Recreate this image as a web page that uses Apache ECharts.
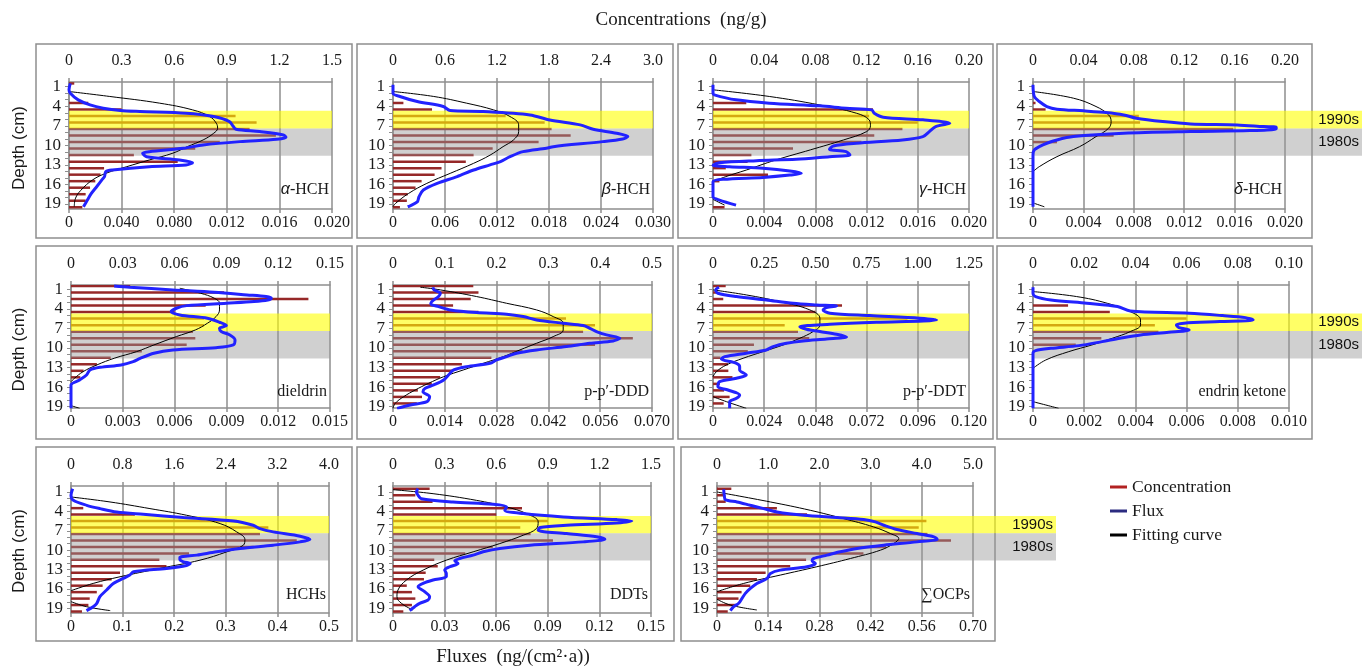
<!DOCTYPE html>
<html><head><meta charset="utf-8">
<script src="https://cdn.jsdelivr.net/npm/echarts@6/dist/echarts.min.js"></script>
<style>html,body{margin:0;padding:0;background:#fff}#c{width:1362px;height:666px}</style>
</head><body><div id="c"></div>
<script>
// ---------------- DATA ----------------
const depthMid = [0.5,1.5,2.5,3.5,4.5,5.5,6.5,7.5,8.5,9.5,10.5,11.5,12.5,13.5,14.5,15.5,16.5,17.5,18.5,19.5];
const depthLabels = [1,4,7,10,13,16,19];
const depthTicks = [1,2,3,4,5,6,7,8,9,10,11,12,13,14,15,16,17,18,19];
const band1990s = [4.7, 7.4];
const band1980s = [7.4, 11.6];
const bandLabels = ['1990s', '1980s'];

// α-HCH
const aHCH_top = ['0','0.3','0.6','0.9','1.2','1.5'];
const aHCH_bot = ['0','0.040','0.080','0.012','0.016','0.020'];
const aHCH_conc = [0.03,0,0,0.11,0.3,0.95,1.07,1.03,1.18,0.86,0.72,0.37,0.62,0.2,0.18,0.15,0.12,0.095,0.095,0.076];
const aHCH_flux = [[0.0001,0.5],[0,1.48],[0.0001,1.99],[0.0007,3.02],[0.0016,3.79],[0.0026,4.3],[0.0039,4.66],[0.0054,4.81],[0.0089,5.07],[0.011,5.58],[0.0122,6.35],[0.0125,7.12],[0.0127,7.53],[0.0145,7.89],[0.0163,8.4],[0.0165,8.76],[0.0158,9.07],[0.013,9.43],[0.0102,9.94],[0.0087,10.45],[0.0061,10.97],[0.0056,11.22],[0.0059,11.74],[0.0084,12.25],[0.0094,12.66],[0.0089,13.0],[0.0061,13.27],[0.0033,13.79],[0.0028,14.04],[0.0027,14.8],[0.0025,15.3],[0.0021,16.35],[0.0017,17.38],[0.0014,18.4],[0.0011,19.43]];
const aHCH_fit = [[0,1.74],[0.0031,2.5],[0.0069,3.53],[0.0094,4.56],[0.0107,5.58],[0.0112,6.6],[0.0113,7.38],[0.011,8.15],[0.0102,9.17],[0.009,10.2],[0.0079,11.2],[0.0061,12.25],[0.0044,13.27],[0.0028,14.3],[0.0018,15.3],[0.0009,16.9],[0.0005,18.1],[0.0004,19.4]];

// β-HCH
const bHCH_top = ['0','0.6','1.2','1.8','2.4','3.0'];
const bHCH_bot = ['0','0.06','0.012','0.018','0.024','0.030'];
const bHCH_conc = [0,0,0,0.12,0.45,1.3,1.75,1.83,2.05,1.68,1.15,0.93,0.84,0.56,0.48,0.33,0.26,0.17,0.16,0.08];
const bHCH_flux = [[0,0.71],[0,1.99],[0.0008,2.5],[0.0028,3.27],[0.0058,4.04],[0.0066,4.66],[0.0104,4.81],[0.0158,5.33],[0.0181,6.1],[0.0216,6.86],[0.0231,7.53],[0.0258,8.15],[0.0271,8.66],[0.0265,9.02],[0.0242,9.43],[0.0185,10.2],[0.0177,10.45],[0.015,10.97],[0.0135,11.74],[0.0124,12.5],[0.0112,13.0],[0.0093,13.79],[0.0074,14.8],[0.0051,15.84],[0.0035,16.86],[0.003,17.89],[0.0028,18.66],[0.0017,19.43]];
const bHCH_fit = [[0,1.74],[0.0047,2.5],[0.0085,3.53],[0.0116,4.56],[0.0135,5.58],[0.0145,6.86],[0.0145,7.9],[0.0139,9.17],[0.0127,10.2],[0.0112,11.5],[0.0093,12.76],[0.0066,14.3],[0.0039,15.84],[0.0018,17.38],[0.0003,18.9],[0,19.4]];

// γ-HCH
const gHCH_top = ['0','0.04','0.08','0.12','0.16','0.20'];
const gHCH_bot = ['0','0.004','0.008','0.012','0.016','0.020'];
const gHCH_conc = [0,0,0,0.026,0.125,0.122,0.16,0.148,0.126,0.116,0.0625,0.03,0.027,0.01,0.043,0.005,0,0,0,0.009];
const gHCH_flux = [[0,0.71],[0,1.99],[0.0001,2.25],[0.0018,3.02],[0.0044,3.53],[0.0083,3.94],[0.0104,4.3],[0.0124,4.56],[0.0126,5.07],[0.0133,5.68],[0.0164,6.09],[0.0185,6.61],[0.0174,7.12],[0.0169,7.89],[0.0164,8.66],[0.0148,9.17],[0.0112,9.68],[0.0094,10.1],[0.0091,10.6],[0.0104,10.97],[0.0107,11.48],[0.0091,11.74],[0.0065,12.15],[0.0034,12.35],[0.0005,12.66],[0,13.07],[0.0013,13.27],[0.0039,13.53],[0.006,13.94],[0.0069,14.3],[0.006,14.56],[0.0039,14.92],[0.0008,15.22],[0,15.58],[0,16.35],[0,17.1],[0,17.9],[0.0005,18.4],[0.0018,19.17]];
const gHCH_fit = [[0,1.48],[0.0044,2.5],[0.0083,3.79],[0.0112,5.07],[0.0122,6.09],[0.0123,7.0],[0.012,7.89],[0.0102,9.17],[0.0076,10.7],[0.0049,12.25],[0.0026,13.79],[0.001,14.8],[0,15.58],['-','-'],[0,18.3],[0.0009,19.17]];

// δ-HCH
const dHCH_top = ['0','0.04','0.08','0.12','0.16','0.20'];
const dHCH_bot = ['0','0.004','0.008','0.012','0.016','0.020'];
const dHCH_conc = [0,0,0,0.002,0.01,0.084,0.085,0.159,0.064,0.019,0,0,0,0,0,0,0,0,0,0];
const dHCH_flux = [[0,0.71],[0.0001,2.5],[0.0005,3.27],[0.0011,4.04],[0.0019,4.45],[0.004,4.71],[0.0058,4.97],[0.0072,5.33],[0.0082,5.84],[0.0103,6.35],[0.0125,6.71],[0.0162,6.86],[0.0183,7.12],[0.0193,7.22],[0.0193,7.48],[0.0172,7.74],[0.0125,7.89],[0.0072,8.15],[0.0032,8.66],[0.0019,9.17],[0.0011,9.68],[0.0005,10.2],[0.0001,10.7],[0,11.48],[0,19.43]];
const dHCH_fit = [[0,1.74],[0.0032,2.76],[0.005,4.04],[0.006,5.33],[0.0062,6.35],[0.006,7.38],[0.005,8.66],[0.0037,10.2],[0.0019,11.74],[0.0005,13.27],[0,14.04],['-','-'],[0.0001,18.9],[0.0009,19.43]];

// dieldrin
const diel_top = ['0','0.03','0.06','0.09','0.12','0.15'];
const diel_bot = ['0','0.003','0.006','0.009','0.012','0.015'];
const diel_conc = [0.0343,0.0887,0.1375,0.078,0.06,0.077,0.077,0.0706,0.072,0.067,0.041,0.023,0.015,0.0073,0.0054,0.001,0,0,0,0];
const diel_flux = [[0.0025,0.49],[0.0034,0.69],[0.0059,1.1],[0.0083,1.46],[0.0102,1.87],[0.0113,2.12],[0.0116,2.38],[0.0114,2.64],[0.0106,2.89],[0.009,3.15],[0.0067,3.51],[0.0061,3.91],[0.0058,4.43],[0.0063,4.94],[0.0079,5.45],[0.0086,6.06],[0.009,6.57],[0.0086,6.98],[0.0087,7.49],[0.0092,8.0],[0.0095,8.77],[0.0094,9.54],[0.0084,9.95],[0.0059,10.3],[0.0048,10.8],[0.004,11.6],[0.0036,12.1],[0.0029,12.6],[0.0017,12.96],[0.0011,13.37],[0.0009,14.14],[0.0005,14.9],[0,15.67],[0,17.2],[0,19.25]];
const diel_fit = [[0.0063,0.85],[0.0075,1.61],[0.0083,2.38],[0.0086,3.15],[0.0086,4.17],[0.0084,5.19],[0.0079,6.21],[0.0072,7.24],[0.0061,8.26],[0.0048,9.54],[0.0038,10.56],[0.0025,11.58],[0.0015,12.6],[0.0007,13.63],[0.0002,14.65],[0,15.16],['-','-'],[0,18.84],[0.0005,19.25]];

// p-p'-DDD
const DDD_top = ['0','0.1','0.2','0.3','0.4','0.5'];
const DDD_bot = ['0','0.014','0.028','0.042','0.056','0.070'];
const DDD_conc = [0.155,0.165,0.15,0.116,0.165,0.334,0.39,0.367,0.463,0.39,0.25,0.19,0.133,0.114,0.091,0.075,0.048,0.056,0.046,0.03];
const DDD_flux = [[0.0108,0.69],[0.0111,1.1],[0.0128,1.61],[0.0123,2.12],[0.011,2.64],[0.0102,3.15],[0.0105,3.4],[0.0123,3.66],[0.0155,4.17],[0.0226,4.58],[0.0307,4.83],[0.0352,5.19],[0.0388,5.7],[0.046,6.21],[0.0514,6.57],[0.0532,6.98],[0.055,7.49],[0.0577,8.0],[0.0613,8.51],[0.0595,8.92],[0.0532,9.28],[0.0469,9.79],[0.0388,10.3],[0.0334,10.8],[0.0307,11.33],[0.028,11.84],[0.0262,12.35],[0.0199,12.86],[0.0164,13.37],[0.015,14.14],[0.0137,14.9],[0.011,15.67],[0.0087,16.18],[0.0081,16.7],[0.0099,17.46],[0.0092,18.23],[0.0047,18.74],[0.0011,19.25]];
const DDD_fit = [[0.0074,0.69],[0.0128,1.1],[0.0226,2.12],[0.0307,3.15],[0.0388,4.17],[0.0433,5.19],[0.046,6.21],[0.046,7.24],[0.0433,8.26],[0.0388,9.28],[0.0343,10.3],[0.0298,11.33],[0.0244,12.35],[0.019,13.37],[0.0137,14.4],[0.0096,15.42],[0.006,16.44],[0.0029,17.46],[0.0006,18.48],[0,19.25]];

// p-p'-DDT
const DDT_top = ['0','0.25','0.50','0.75','1.00','1.25'];
const DDT_bot = ['0','0.024','0.048','0.072','0.096','0.120'];
const DDT_conc = [0.062,0.02,0.05,0.63,0.5,0.95,0.35,0.415,0.47,0.2,0.17,0.036,0.073,0.075,0.095,0.033,0.054,0.081,0.052,0.04];
const DDT_flux = [[0.0028,0.69],[0.0013,1.1],[0.0023,1.61],[0.011,2.12],[0.025,2.64],[0.0375,3.15],[0.0485,3.4],[0.0579,3.56],[0.0532,3.81],[0.0516,4.17],[0.0548,4.68],[0.0735,5.04],[0.097,5.45],[0.1048,5.7],[0.0986,5.86],[0.0767,6.06],[0.0548,6.37],[0.0407,6.73],[0.0438,7.13],[0.0501,7.49],[0.0579,7.9],[0.0626,8.31],[0.0532,8.62],[0.0422,8.92],[0.0344,9.28],[0.0282,9.79],[0.025,10.3],[0.0156,10.8],[0.0055,11.33],[0.0039,11.68],[0.011,12.35],[0.0125,12.86],[0.0125,13.37],[0.0156,14.14],[0.011,14.65],[0.0031,15.16],[0.0023,15.93],[0.007,16.44],[0.0125,17.2],[0.011,17.72],[0.0078,18.23],[0.0078,18.74],[0.0078,19.25]];
const DDT_fit = [[0,1.1],[0.0156,1.87],[0.0313,2.9],[0.0454,4.17],[0.0501,5.45],[0.0501,6.47],[0.0469,7.49],[0.0407,8.51],[0.0329,9.54],[0.0235,10.56],[0.0141,11.58],[0.0063,12.6],[0.0016,13.63],[0,14.4],['-','-'],[0,17.46],[0.0063,18.23],[0.0156,19.25]];

// endrin ketone
const EK_top = ['0','0.02','0.04','0.06','0.08','0.10'];
const EK_bot = ['0','0.002','0.004','0.006','0.008','0.010'];
const EK_conc = [0,0,0,0.0137,0.03,0.06,0.0476,0.049,0.0267,0.0167,0,0,0,0,0,0,0,0,0,0];
const EK_flux = [[0,0.69],[0,1.61],[0.0001,2.12],[0.0007,2.64],[0.0021,3.15],[0.0033,3.66],[0.0038,4.32],[0.0061,4.68],[0.0074,5.04],[0.0083,5.35],[0.0086,5.7],[0.0073,5.96],[0.0059,6.21],[0.0056,6.47],[0.0057,6.88],[0.0061,7.24],[0.0053,7.6],[0.0042,8.0],[0.0034,8.51],[0.0027,9.03],[0.0018,9.64],[0.0007,10.05],[0.0001,10.4],[0,10.8],[0,19.25]];
const EK_fit = [[0,1.36],[0.0017,2.12],[0.0029,3.15],[0.0038,4.43],[0.0042,5.7],[0.0042,6.47],[0.0038,7.49],[0.0031,8.51],[0.0023,9.54],[0.0014,10.56],[0.0005,11.84],[0,13.12],['-','-'],[0,18.23],[0.001,19.25]];

// HCHs
const HCHs_top = ['0','0.8','1.6','2.4','3.2','4.0'];
const HCHs_bot = ['0','0.1','0.2','0.3','0.4','0.5'];
const HCHs_conc = [0,0,0,0.19,0.99,2.57,3.06,2.93,3.5,2.83,1.83,1.37,1.48,0.76,0.63,0.49,0.4,0.29,0.27,0.17];
const HCHs_flux = [[0.0032,0.49],[0,1.51],[0.0045,2.29],[0.0304,3.06],[0.0562,3.57],[0.0885,4.09],[0.14,4.45],[0.218,4.96],[0.315,5.48],[0.353,6.14],[0.366,6.66],[0.392,7.17],[0.444,7.84],[0.463,8.36],[0.444,8.72],[0.392,9.23],[0.328,9.74],[0.282,10.26],[0.244,10.77],[0.211,11.13],[0.211,11.44],[0.218,11.8],[0.231,12.06],[0.224,12.37],[0.185,12.83],[0.121,13.35],[0.114,13.86],[0.101,14.37],[0.082,15.15],[0.069,16.17],[0.056,17.2],[0.05,18.23],[0.043,18.75],[0.03,19.36]];
const HCHs_fit = [[0,1.77],[0.0756,2.54],[0.153,3.57],[0.224,4.6],[0.289,5.89],[0.321,7.17],[0.337,8.36],[0.334,9.23],[0.302,10.26],[0.25,11.55],[0.172,12.83],[0.095,14.12],[0.043,15.15],[0,16.28],['-','-'],[0,17.97],[0.03,18.75],[0.076,19.36]];

// DDTs
const DDTs_top = ['0','0.3','0.6','0.9','1.2','1.5'];
const DDTs_bot = ['0','0.03','0.06','0.09','0.12','0.15'];
const DDTs_conc = [0.213,0.13,0.23,0.75,0.6,0.9,0.74,0.8,0.93,0.58,0.42,0.24,0.26,0.19,0.18,0.08,0.11,0.13,0.11,0.06];
const DDTs_flux = [[0.0146,0.49],[0.0136,1.0],[0.0146,1.51],[0.0165,2.03],[0.0349,2.54],[0.0582,2.9],[0.066,3.31],[0.065,3.83],[0.0757,4.34],[0.099,4.86],[0.13,5.27],[0.1388,5.48],[0.13,5.78],[0.1009,6.14],[0.0854,6.5],[0.0844,6.92],[0.1009,7.43],[0.1184,7.94],[0.1232,8.3],[0.1106,8.72],[0.0796,9.23],[0.0621,9.74],[0.0524,10.26],[0.0466,10.77],[0.0388,11.29],[0.0359,11.65],[0.0378,12.06],[0.033,12.57],[0.0301,13.09],[0.031,13.6],[0.031,14.12],[0.0233,14.63],[0.0175,15.15],[0.0146,15.66],[0.0184,16.43],[0.0213,17.2],[0.0204,17.72],[0.0155,18.23],[0.0126,18.75],[0.0097,19.36]];
const DDTs_fit = [[0,0.64],[0.0233,1.26],[0.0485,2.29],[0.066,3.31],[0.0776,4.34],[0.0844,5.63],[0.0834,6.66],[0.0757,7.69],[0.0621,8.98],[0.0466,10.26],[0.031,11.55],[0.0175,13.09],[0.0078,14.63],[0.0029,16.17],[0.0023,17.2],[0.0049,18.23],[0.0116,19.26]];

// ∑OCPs
const OCPs_top = ['0','1.0','2.0','3.0','4.0','5.0'];
const OCPs_bot = ['0','0.14','0.28','0.42','0.56','0.70'];
const OCPs_conc = [0.28,0.15,0.17,1.17,1.76,4.09,3.94,4.11,4.57,3.3,2.86,1.74,1.43,0.95,0.78,0.65,0.48,0.42,0.36,0.21];
const OCPs_flux = [[0.0182,0.59],[0.02,1.51],[0.0228,2.18],[0.0547,2.54],[0.0912,3.06],[0.1276,3.57],[0.164,4.09],[0.237,4.6],[0.328,4.96],[0.401,5.27],[0.433,5.63],[0.456,6.14],[0.492,6.81],[0.547,7.43],[0.593,7.94],[0.602,8.3],[0.547,8.72],[0.456,9.23],[0.383,9.74],[0.337,10.26],[0.301,10.77],[0.264,11.29],[0.26,11.65],[0.269,12.06],[0.246,12.57],[0.173,13.09],[0.146,13.6],[0.137,14.37],[0.109,15.15],[0.0912,15.92],[0.0775,16.69],[0.0684,17.46],[0.0593,18.23],[0.0456,18.75],[0.0365,19.36]];
const OCPs_fit = [[0,1.0],[0.146,2.54],[0.255,3.83],[0.346,5.12],[0.428,6.4],[0.474,7.43],[0.497,8.2],[0.483,8.98],[0.447,10.0],[0.365,11.29],[0.273,12.57],[0.173,13.86],[0.073,15.15],[0,16.43],['-','-'],[0,17.6],[0.0365,18.5],[0.109,19.26]];

// ---------------- LAYOUT ----------------
const panels = [
  {label:'{g|α}-HCH', top:aHCH_top, bot:aHCH_bot, conc:aHCH_conc, flux:aHCH_flux, fit:aHCH_fit},
  {label:'{g|β}-HCH', top:bHCH_top, bot:bHCH_bot, conc:bHCH_conc, flux:bHCH_flux, fit:bHCH_fit},
  {label:'{g|γ}-HCH', top:gHCH_top, bot:gHCH_bot, conc:gHCH_conc, flux:gHCH_flux, fit:gHCH_fit},
  {label:'{g|δ}-HCH', top:dHCH_top, bot:dHCH_bot, conc:dHCH_conc, flux:dHCH_flux, fit:dHCH_fit},
  {label:'dieldrin', top:diel_top, bot:diel_bot, conc:diel_conc, flux:diel_flux, fit:diel_fit},
  {label:'p-p′-DDD', top:DDD_top, bot:DDD_bot, conc:DDD_conc, flux:DDD_flux, fit:DDD_fit},
  {label:'p-p′-DDT', top:DDT_top, bot:DDT_bot, conc:DDT_conc, flux:DDT_flux, fit:DDT_fit},
  {label:'endrin ketone', top:EK_top, bot:EK_bot, conc:EK_conc, flux:EK_flux, fit:EK_fit},
  {label:'HCHs', top:HCHs_top, bot:HCHs_bot, conc:HCHs_conc, flux:HCHs_flux, fit:HCHs_fit},
  {label:'DDTs', top:DDTs_top, bot:DDTs_bot, conc:DDTs_conc, flux:DDTs_flux, fit:DDTs_fit},
  {label:'∑OCPs', top:OCPs_top, bot:OCPs_bot, conc:OCPs_conc, flux:OCPs_flux, fit:OCPs_fit}
];
const rows = [
  {top:82, height:127, min:0.28, max:19.77, box:[44,238], labelY:190},
  {top:285, height:123, min:0.35, max:19.2, box:[246,439], labelY:392},
  {top:486, height:127, min:0.07, max:19.73, box:[447,641], labelY:595}
];
const cells = [
  {row:0, left:69, width:263, box:[36,352]},
  {row:0, left:393, width:260, box:[357,673]},
  {row:0, left:713, width:256, box:[678,993]},
  {row:0, left:1033, width:252, box:[997,1312]},
  {row:1, left:71, width:259, box:[36,352]},
  {row:1, left:393, width:259, box:[357,673]},
  {row:1, left:713, width:256, box:[678,993]},
  {row:1, left:1033, width:256, box:[997,1312]},
  {row:2, left:71, width:258, box:[36,352]},
  {row:2, left:393, width:258, box:[357,674]},
  {row:2, left:717, width:256, box:[681,995]}
];
const extensions = [
  {row:0, left:1285, right:1362},
  {row:1, left:1289, right:1362},
  {row:2, left:973, right:1056}
];

const GRAY = '#8e8e8e';
const SERIF = '"Liberation Serif", "Times New Roman", serif';
const SANS = '"Liberation Sans", Arial, sans-serif';
const BAR = '#962828';
const YEL = 'rgba(255,255,0,0.6)';
const GRY = 'rgba(150,150,150,0.45)';

function renderBar(params, api){
  const v = api.value(0), d = api.value(1);
  const a = api.coord([0, d]), b = api.coord([v, d]);
  return {type:'rect', shape:{x:a[0], y:a[1]-1.25, width:Math.max(0, b[0]-a[0]), height:2.5}, style:{fill:BAR}};
}
function makeBandRenderer(withLabel){
  return function(params, api){
    const cs = params.coordSys;
    const y0 = api.coord([0, api.value(0)])[1], y1 = api.coord([0, api.value(1)])[1];
    const idx = api.value(2);
    const rect = {type:'rect', shape:{x:cs.x, y:Math.min(y0,y1), width:cs.width, height:Math.abs(y1-y0)}, style:{fill: idx === 0 ? YEL : GRY}};
    if (!withLabel) return rect;
    return {type:'group', children:[rect, {type:'text', style:{text:bandLabels[idx], x:cs.x+cs.width-3, y:(y0+y1)/2, align:'right', verticalAlign:'middle', fontSize:15, fontFamily:SANS, fill:'#111'}}]};
  };
}
const bandData = [[band1990s[0], band1990s[1], 0], [band1980s[0], band1980s[1], 1]];

const grid = [], xAxis = [], yAxis = [], series = [], graphic = [];
panels.forEach((p, i) => {
  const c = cells[i], r = rows[c.row];
  grid.push({left:c.left, top:r.top, width:c.width, height:r.height, containLabel:false});
  const tMax = parseFloat(p.top[5]), bMax = parseFloat(p.bot[5]);
  const tInt = tMax/5, bInt = bMax/5;
  const axisCommon = {type:'value', gridIndex:i, min:0,
    axisLine:{show:true, onZero:false, lineStyle:{color:GRAY, width:1.5}},
    axisTick:{show:true, length:4, lineStyle:{color:GRAY, width:1.5}}};
  xAxis.push(Object.assign({}, axisCommon, {position:'top', max:tMax, interval:tInt,
    axisLabel:{margin:13, fontFamily:SERIF, fontSize:16, color:'#1a1a1a', showMinLabel:true, showMaxLabel:true,
      formatter:(v)=>p.top[Math.round(v/tInt)]},
    splitLine:{show:true, lineStyle:{color:GRAY, width:1.5}}}));
  xAxis.push(Object.assign({}, axisCommon, {position:'bottom', max:bMax, interval:bInt,
    axisLabel:{margin:6, fontFamily:SERIF, fontSize:16, color:'#1a1a1a', showMinLabel:true, showMaxLabel:true,
      formatter:(v)=>p.bot[Math.round(v/bInt)]},
    splitLine:{show:false}}));
  yAxis.push({type:'value', gridIndex:i, inverse:true, min:r.min, max:r.max,
    axisLine:{show:true, onZero:false, lineStyle:{color:GRAY, width:1.5}},
    axisTick:{show:true, length:4, customValues:depthTicks, lineStyle:{color:GRAY, width:1}},
    axisLabel:{customValues:depthLabels, margin:8, fontFamily:SERIF, fontSize:17, color:'#1a1a1a'},
    splitLine:{show:false}});
  series.push({type:'custom', name:'Concentration', xAxisIndex:2*i, yAxisIndex:i, clip:true, z:1, silent:true,
    renderItem:renderBar, data:p.conc.map((v,k)=>[v, depthMid[k]])});
  series.push({type:'custom', xAxisIndex:2*i+1, yAxisIndex:i, z:2, silent:true,
    renderItem:makeBandRenderer(false), data:bandData});
  series.push({type:'line', name:'Fitting curve', xAxisIndex:2*i+1, yAxisIndex:i, z:3, silent:true,
    data:p.fit, smooth:0.4, showSymbol:false, symbol:'none', connectNulls:false,
    lineStyle:{color:'#000', width:1}, itemStyle:{color:'#000'}});
  series.push({type:'line', name:'Flux', xAxisIndex:2*i+1, yAxisIndex:i, z:4, silent:true,
    data:p.flux, smooth:0.3, showSymbol:false, symbol:'none',
    lineStyle:{color:'#2222ff', width:3}, itemStyle:{color:'#2222ff'}});
  graphic.push({type:'rect', z:-10, silent:true, shape:{x:c.box[0], y:r.box[0], width:c.box[1]-c.box[0], height:r.box[1]-r.box[0]},
    style:{fill:null, stroke:GRAY, lineWidth:1.5}});
  graphic.push({type:'text', silent:true, z:10, style:{text:p.label, x:c.left+c.width-3, y:r.labelY, align:'right', verticalAlign:'middle',
    fontSize:16, fontFamily:SERIF, fill:'#1a1a1a', rich:{g:{fontStyle:'italic', fontFamily:SANS, fontSize:16, fill:'#1a1a1a'}}}});
});
extensions.forEach((e) => {
  const r = rows[e.row];
  const gi = grid.length;
  grid.push({left:e.left, top:r.top, width:e.right-e.left, height:r.height});
  const xi = xAxis.length;
  xAxis.push({type:'value', gridIndex:gi, min:0, max:1, show:false});
  const yi = yAxis.length;
  yAxis.push({type:'value', gridIndex:gi, inverse:true, min:r.min, max:r.max, show:false});
  series.push({type:'custom', xAxisIndex:xi, yAxisIndex:yi, z:2, silent:true, renderItem:makeBandRenderer(true), data:bandData});
});

graphic.push({type:'text', silent:true, style:{text:'Concentrations  (ng/g)', x:681, y:20, align:'center', verticalAlign:'middle', fontSize:19, fontFamily:SERIF, fill:'#1a1a1a'}});
graphic.push({type:'text', silent:true, style:{text:'Fluxes  (ng/(cm²·a))', x:513, y:657, align:'center', verticalAlign:'middle', fontSize:19, fontFamily:SERIF, fill:'#1a1a1a'}});
rows.forEach((r) => {
  graphic.push({type:'text', silent:true, x:19, y:(r.box[0]+r.box[1])/2 + 7, rotation:Math.PI/2,
    style:{text:'Depth (cm)', x:0, y:0, align:'center', verticalAlign:'middle', fontSize:17, fontFamily:SANS, fill:'#1a1a1a'}});
});

const chart = echarts.init(document.getElementById('c'), null, {renderer:'canvas'});
chart.setOption({
  animation:false,
  backgroundColor:'#fff',
  textStyle:{fontFamily:SERIF},
  legend:{orient:'vertical', left:1105, top:473, icon:'rect', itemWidth:17, itemHeight:3, itemGap:6,
    textStyle:{fontFamily:SERIF, fontSize:17.5, color:'#1a1a1a'},
    data:[{name:'Concentration', itemStyle:{color:'#b22222'}}, {name:'Flux', itemStyle:{color:'#2b2b80'}}, {name:'Fitting curve', itemStyle:{color:'#000'}}],
    selectedMode:false},
  grid, xAxis, yAxis, series, graphic
});
</script></body></html>
